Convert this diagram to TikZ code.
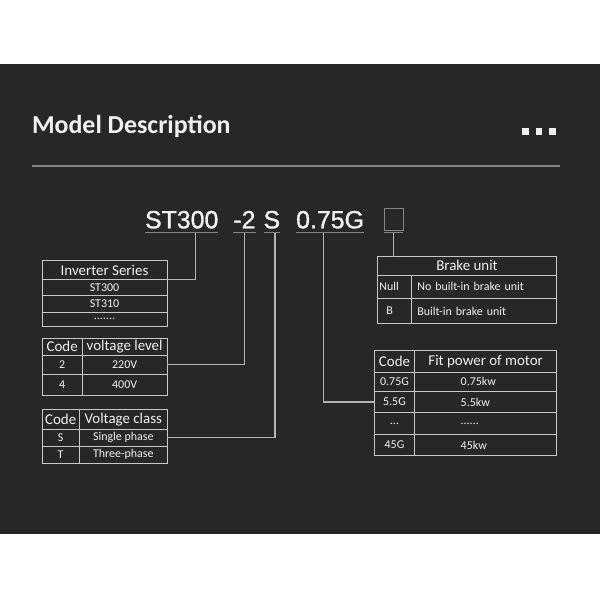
\documentclass[tikz,border=0pt]{standalone}
\usepackage{fontspec}
\setmainfont{Carlito}
\newfontface\codefont[RawFeature={embolden=1.2}]{Liberation Sans}
\usetikzlibrary{positioning}
\definecolor{bgdark}{HTML}{272727}
\definecolor{txtlight}{HTML}{F2F2F2}
\definecolor{tline}{HTML}{C8C8C8}
\definecolor{wline}{HTML}{B4B4B4}
\definecolor{uline}{HTML}{858585}

\begin{document}
\begin{tikzpicture}[x=1bp, y=-1bp,
        every node/.style={text=txtlight, inner sep=0pt, outer sep=0pt},
        cell/.style 2 args={draw=tline, line width=0.9bp, minimum width=#1bp, minimum height=#2bp, font=\fontsize{12}{12}\selectfont},
        head/.style={font=\fontsize{15}{15}\selectfont},
        part/.style={font=\codefont\fontsize{25}{25}\selectfont, text depth=0pt, inner ysep=4.4bp},
        wire/.style={draw=wline, line width=1.2bp},
        uline/.style={draw=uline, line width=1.5bp}
    ]
        \useasboundingbox[fill=white] (0,0) rectangle (600,600);
        \fill[bgdark] (0,64) rectangle (600,534);

        % heading
        \node[anchor=base west, font=\bfseries\fontsize{26}{26}\selectfont] (title) at (32,133.3) {Model Description};
        \foreach \i in {0,1,2}
            \fill[txtlight] (522.3+13.3*\i,128.3) rectangle ++(6.7,6.4);
        \draw[draw=uline, line width=1.3bp] (32,166) -- (560,166);

        % model code
        \node[part, anchor=base west] (ser) at (145,228.3) {ST300};
        \node[part, base right=15bp of ser] (volt) {-2};
        \node[part, base right=8bp of volt] (phase) {S};
        \node[part, base right=16bp of phase] (power) {0.75G};
        \node[draw=uline, line width=1bp, minimum width=19bp, minimum height=21.7bp, anchor=north west] (opt) at (384.3,208.3) {};
        \foreach \p in {ser,volt,phase,power}
            \draw[uline] (\p.south west) -- (\p.south east);
        \draw[uline] ([yshift=-2.7bp]opt.south west) -- ([yshift=-2.7bp]opt.south east);

        % inverter series
        \node[cell={125}{18.6}, head, anchor=north west] (series-h) at (42,260.7) {Inverter Series};
        \node[cell={125}{16.4}, below=0pt of series-h] (series-1) {ST300};
        \node[cell={125}{16.6}, below=0pt of series-1] (series-2) {ST310};
        \node[cell={125}{13.7}, below=0pt of series-2] (series-3) {.......};

        % voltage level
        \node[cell={40.3}{16.7}, head, anchor=north west] (vlev-hc) at (42,338.3) {Code};
        \node[cell={84.7}{16.7}, head, right=0pt of vlev-hc] (vlev-hv) {voltage level};
        \node[cell={40.3}{19.7}, below=0pt of vlev-hc] (vlev-c1) {2};
        \node[cell={84.7}{19.7}, right=0pt of vlev-c1] (vlev-v1) {220V};
        \node[cell={40.3}{20.3}, below=0pt of vlev-c1] (vlev-c2) {4};
        \node[cell={84.7}{20.3}, right=0pt of vlev-c2] (vlev-v2) {400V};

        % voltage class
        \node[cell={37.3}{20}, head, anchor=north west] (vcls-hc) at (42,409.3) {Code};
        \node[cell={88}{20}, head, right=0pt of vcls-hc] (vcls-hv) {Voltage class};
        \node[cell={37.3}{16.7}, below=0pt of vcls-hc] (vcls-c1) {S};
        \node[cell={88}{16.7}, right=0pt of vcls-c1] (vcls-v1) {Single phase};
        \node[cell={37.3}{17.3}, below=0pt of vcls-c1] (vcls-c2) {T};
        \node[cell={88}{17.3}, right=0pt of vcls-c2] (vcls-v2) {Three-phase};

        % brake unit
        \node[cell={179.4}{18.3}, head, anchor=north west] (brake-h) at (377.3,256.7) {Brake unit};
        \node[cell={34}{23.7}, below=0pt of brake-h.south west, anchor=north west, inner xsep=2bp, text width=30bp, align=left] (brake-c1) {Null};
        \node[cell={145.4}{23.7}, right=0pt of brake-c1, inner xsep=6bp, text width=133.4bp, align=left] (brake-v1) {No built-in brake unit};
        \node[cell={34}{24.6}, below=0pt of brake-c1, inner xsep=9bp, text width=16bp, align=left] (brake-c2) {B};
        \node[cell={145.4}{24.6}, right=0pt of brake-c2, inner xsep=6bp, text width=133.4bp, align=left] (brake-v2) {Built-in brake unit};

        % fit power of motor
        \node[cell={40.4}{21.6}, head, anchor=north west] (fit-hc) at (374.3,350.7) {Code};
        \node[cell={142}{21.6}, head, right=0pt of fit-hc] (fit-hv) {Fit power of motor};
        \node[cell={40.4}{19}, below=0pt of fit-hc] (fit-c1) {0.75G};
        \node[cell={142}{19}, right=0pt of fit-c1, inner xsep=46bp, text width=50bp, align=left] (fit-v1) {0.75kw};
        \node[cell={40.4}{21.4}, below=0pt of fit-c1] (fit-c2) {5.5G};
        \node[cell={142}{21.4}, right=0pt of fit-c2, inner xsep=46bp, text width=50bp, align=left] (fit-v2) {5.5kw};
        \node[cell={40.4}{21.6}, below=0pt of fit-c2] (fit-c3) {...};
        \node[cell={142}{21.6}, right=0pt of fit-c3, inner xsep=46bp, text width=50bp, align=left] (fit-v3) {......};
        \node[cell={40.4}{21.4}, below=0pt of fit-c3] (fit-c4) {45G};
        \node[cell={142}{21.4}, right=0pt of fit-c4, inner xsep=46bp, text width=50bp, align=left] (fit-v4) {45kw};

        % connectors
        \draw[wire] ([xshift=13.7bp]ser.south) |- (series-h.south east);
        \draw[wire] (volt.south) |- (vlev-v1.east);
        \draw[wire] ([xshift=3.2bp]phase.south) |- (vcls-v1.east);
        \draw[wire] ([xshift=-6.2bp]power.south) |- (fit-c2.west);
        \draw[wire] ([yshift=-2.7bp]opt.south) -- (opt.south |- brake-h.north);
    \end{tikzpicture}
\end{document}
